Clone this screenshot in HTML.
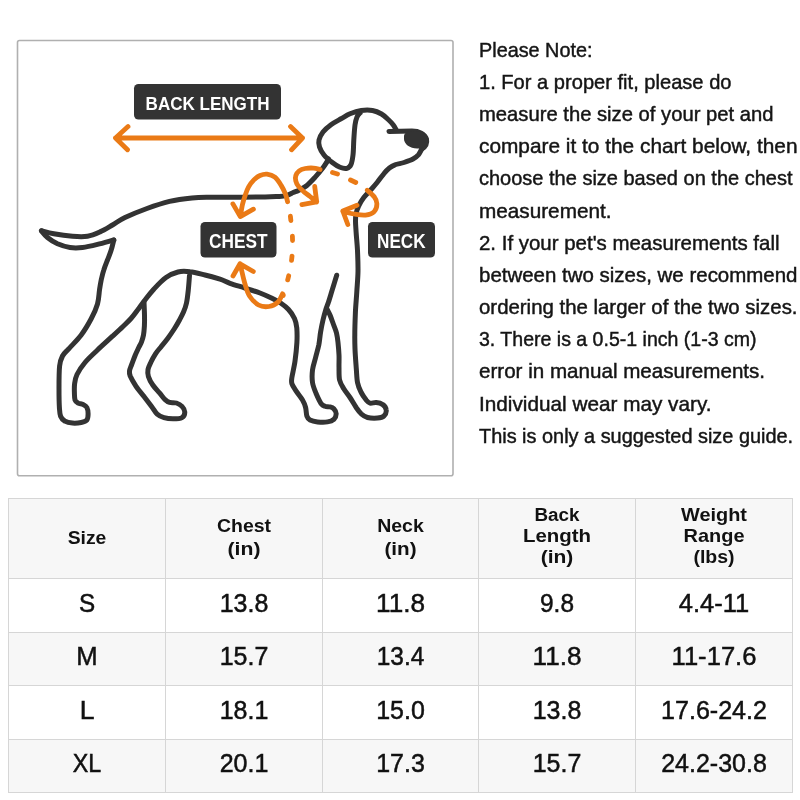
<!DOCTYPE html>
<html>
<head>
<meta charset="utf-8">
<style>
html,body{margin:0;padding:0;background:#fff;}
body{width:800px;height:800px;overflow:hidden;}
svg{display:block;will-change:transform;}
text{font-family:"Liberation Sans","Noto Sans CJK SC",sans-serif;}
.n{font-size:20.3px;fill:#151515;stroke:#151515;stroke-width:0.45px;}
.h{font-size:19px;font-weight:bold;fill:#111;text-anchor:middle;}
.d{font-size:26px;fill:#111;stroke:#111;stroke-width:0.5px;text-anchor:middle;}
.lbl{font-weight:bold;fill:#fff;text-anchor:middle;}
</style>
</head>
<body>
<svg width="800" height="800" viewBox="0 0 800 800">
<rect x="17.5" y="40.5" width="435.5" height="435.3" rx="2" fill="#fff" stroke="#b0b0b0" stroke-width="1.6"/>
<g fill="none" stroke="#333" stroke-width="5" stroke-linecap="round" stroke-linejoin="round">
<path d="M41.4,230.8 C43.5,231.3 48.6,232.8 53.8,233.8 C58.9,234.7 66.9,235.8 72.5,236.2 C78.1,236.7 82.9,237.0 87.5,236.2 C92.1,235.5 95.8,233.8 100.0,231.9 C104.2,230.0 108.3,227.4 112.5,225.0 C116.7,222.6 119.2,220.2 125.0,217.5 C130.8,214.8 139.6,211.2 147.0,208.5 C154.4,205.8 162.0,203.2 169.5,201.4 C177.0,199.7 185.2,198.7 192.0,198.0 C198.8,197.3 202.0,197.4 210.0,197.3 C218.0,197.2 230.8,197.2 240.0,197.2 C249.2,197.1 258.8,197.1 265.0,197.0 C271.2,196.9 274.0,196.7 277.5,196.5 C281.0,196.3 283.6,196.3 286.2,195.6 C288.9,194.9 291.2,193.4 293.2,192.5 C295.3,191.6 296.3,191.5 298.5,190.4 C300.7,189.3 303.8,187.9 306.6,185.7 C309.4,183.4 312.7,179.8 315.4,176.9 C318.1,174.0 320.9,170.6 322.8,168.1 C324.7,165.6 325.9,163.5 326.9,162.0 C327.8,160.5 328.2,159.5 328.5,159.0"/>
<path d="M41.4,230.8 C42.4,231.9 44.8,235.3 47.5,237.5 C50.2,239.7 53.8,242.1 57.5,243.8 C61.2,245.4 65.8,246.9 70.0,247.5 C74.2,248.1 77.9,248.0 82.5,247.5 C87.1,247.0 92.3,245.7 97.5,244.4 C102.7,243.2 111.0,240.7 113.8,240.0"/>
<path d="M113.8,240.0 C113.3,241.7 112.3,246.7 111.2,250.0 C110.2,253.3 108.8,256.7 107.5,260.0 C106.2,263.3 104.8,266.7 103.8,270.0 C102.7,273.3 102.0,276.7 101.2,280.0 C100.5,283.3 100.1,286.0 99.5,290.0 C98.9,294.0 98.9,299.2 97.5,304.0 C96.1,308.8 94.0,313.6 91.2,318.8 C88.5,323.9 85.0,330.0 81.2,335.0 C77.5,340.0 71.9,345.2 68.8,348.8 C65.6,352.2 64.0,353.1 62.5,356.0 C61.0,358.9 60.2,360.5 59.6,366.0 C59.0,371.5 59.0,381.8 59.0,388.8 C59.0,395.7 59.1,402.9 59.4,407.5 C59.7,412.1 59.7,414.0 60.6,416.2 C61.5,418.5 63.0,420.1 65.0,421.2 C67.0,422.4 69.8,422.9 72.5,423.1 C75.2,423.3 78.8,423.0 81.2,422.5 C83.7,422.0 85.8,421.5 86.9,420.0 C88.0,418.5 88.1,415.8 88.1,413.8 C88.1,411.7 87.7,409.1 86.9,407.5 C86.1,405.9 84.6,405.1 83.1,404.4 C81.6,403.7 79.4,403.8 78.1,403.1 C76.8,402.4 75.6,401.8 75.0,400.0 C74.4,398.2 74.5,395.2 74.4,392.5 C74.3,389.8 74.2,386.8 74.6,383.8 C75.0,380.8 75.3,378.0 77.0,374.5 C78.7,371.0 81.6,366.6 85.0,362.5 C88.4,358.4 92.9,354.4 97.5,350.0 C102.1,345.6 108.2,340.2 112.5,336.2 C116.8,332.3 119.9,329.5 123.0,326.5 C126.1,323.5 128.5,321.3 131.0,318.5 C133.5,315.7 135.7,312.6 138.0,309.5 C140.3,306.4 142.3,303.4 145.0,300.0 C147.7,296.6 150.5,292.8 154.0,289.0 C157.5,285.2 162.0,280.3 166.0,277.5 C170.0,274.7 174.0,273.0 178.0,272.0 C182.0,271.0 185.5,271.2 190.0,271.8 C194.5,272.2 200.0,273.8 205.0,275.0 C210.0,276.2 215.8,277.9 220.0,279.2 C224.2,280.6 225.8,281.8 230.0,283.3 C234.2,284.8 240.0,286.4 245.0,288.0 C250.0,289.6 255.5,291.3 260.0,293.0 C264.5,294.7 268.5,296.6 272.0,298.3 C275.5,300.0 278.2,301.4 281.0,303.3 C283.8,305.2 286.2,307.0 288.5,309.5 C290.8,312.0 293.1,315.4 294.5,318.5 C295.9,321.6 296.4,324.0 296.8,328.0 C297.1,332.0 297.2,337.0 296.9,342.5 C296.6,348.0 295.8,355.4 295.0,361.2 C294.2,367.1 292.4,373.8 291.9,377.5 C291.4,381.2 291.2,381.5 291.9,383.8 C292.6,386.0 294.5,388.5 296.2,391.2 C298.0,394.0 300.9,397.3 302.5,400.0 C304.1,402.7 304.9,404.8 305.6,407.5 C306.3,410.2 306.2,414.2 306.9,416.2 C307.6,418.3 308.2,419.1 310.0,420.0 C311.8,420.9 314.6,421.6 317.5,421.9 C320.4,422.2 324.8,422.3 327.5,421.9 C330.2,421.5 332.3,420.8 333.8,419.4 C335.2,418.0 336.2,415.5 336.2,413.8 C336.2,412.0 334.8,409.9 333.8,408.8 C332.7,407.6 331.5,407.3 330.0,406.9 C328.5,406.5 326.5,406.8 325.0,406.2 C323.5,405.7 322.7,405.8 321.2,403.8 C319.8,401.7 317.7,397.3 316.2,393.8 C314.8,390.2 313.1,386.5 312.5,382.5 C311.9,378.5 312.0,374.2 312.5,370.0 C313.0,365.8 314.6,361.7 315.6,357.5 C316.6,353.3 317.9,349.2 318.8,345.0 C319.6,340.8 319.9,336.2 320.6,332.0 C321.3,327.8 322.1,323.8 323.0,320.0 C323.9,316.2 325.1,312.0 326.0,309.0 C326.9,306.0 327.4,305.3 328.5,302.0 C329.6,298.7 331.1,293.5 332.5,289.0 C333.9,284.5 336.0,277.5 336.7,275.2"/>
<path d="M144.0,302.0 C144.1,304.2 144.4,311.0 144.5,315.0 C144.6,319.0 144.6,322.7 144.4,326.0 C144.2,329.3 144.0,332.3 143.5,335.0 C143.0,337.7 142.2,340.0 141.5,342.0 C140.8,344.0 140.0,344.8 139.0,347.0 C138.0,349.2 136.5,352.2 135.2,355.2 C134.0,358.2 132.5,362.4 131.5,365.0 C130.5,367.6 129.7,369.2 129.5,371.0 C129.3,372.8 129.2,373.5 130.2,376.0 C131.3,378.5 133.7,382.7 135.9,386.1 C138.2,389.5 141.1,392.9 143.8,396.2 C146.4,399.6 149.3,403.4 151.6,406.4 C153.8,409.4 155.2,412.4 157.2,414.2 C159.3,416.1 161.4,416.9 164.0,417.6 C166.6,418.4 170.0,418.8 173.0,418.8 C176.0,418.8 180.0,418.7 182.0,417.6 C184.0,416.5 184.8,413.9 184.8,412.0 C184.8,410.1 183.4,407.9 182.0,406.4 C180.6,404.9 178.5,403.7 176.4,403.0 C174.3,402.3 171.5,403.0 169.6,402.4 C167.7,401.8 166.8,401.2 165.1,399.6 C163.4,398.0 161.6,395.3 159.5,392.9 C157.4,390.5 154.6,387.7 152.8,385.0 C150.9,382.3 149.2,379.1 148.4,376.5 C147.6,373.9 147.6,371.9 148.0,369.5 C148.4,367.1 149.8,364.6 151.0,362.0 C152.2,359.4 153.8,356.4 155.5,353.8 C157.2,351.1 159.5,348.8 161.5,346.2 C163.5,343.8 165.4,341.6 167.5,338.8 C169.6,335.9 172.2,332.1 174.2,329.0 C176.2,325.9 178.0,322.8 179.5,320.0 C181.0,317.2 182.3,314.8 183.5,312.0 C184.7,309.2 185.7,306.7 186.5,303.0 C187.3,299.3 187.8,294.6 188.3,290.0 C188.8,285.4 189.3,277.9 189.5,275.5"/>
<path d="M327.0,309.0 C327.5,310.0 328.9,312.4 330.0,315.0 C331.1,317.6 332.4,321.5 333.5,324.5 C334.6,327.5 335.8,330.0 336.5,333.0 C337.2,336.0 337.6,338.8 338.0,342.5 C338.4,346.2 338.8,350.8 339.0,355.0 C339.2,359.2 338.9,363.3 339.0,367.5 C339.1,371.7 338.8,376.5 339.6,380.0 C340.4,383.5 342.0,385.8 343.8,388.8 C345.5,391.7 347.9,394.4 350.0,397.5 C352.1,400.6 354.4,404.8 356.2,407.5 C358.1,410.2 359.4,412.1 361.2,413.8 C363.1,415.4 364.8,416.8 367.5,417.5 C370.2,418.2 374.8,418.3 377.5,418.1 C380.2,417.9 382.3,417.6 383.8,416.2 C385.2,414.9 386.5,412.0 386.2,410.0 C386.0,408.0 384.2,405.6 382.5,404.4 C380.8,403.1 378.3,402.7 376.2,402.5 C374.2,402.3 371.7,403.5 370.0,403.1 C368.3,402.7 367.7,401.8 366.2,400.0 C364.8,398.2 362.7,395.4 361.2,392.5 C359.8,389.6 358.3,386.7 357.5,382.5 C356.7,378.3 356.7,373.1 356.2,367.5 C355.8,361.9 355.2,354.2 355.0,348.8 C354.8,343.3 354.7,341.0 354.8,335.0 C354.8,329.0 355.1,319.7 355.4,312.5 C355.7,305.3 356.4,298.8 356.8,291.9 C357.2,285.0 357.9,278.1 358.0,271.2 C358.1,264.4 357.8,257.1 357.5,250.6 C357.2,244.1 356.4,236.9 356.1,232.0 C355.8,227.1 355.5,224.2 355.5,221.2 C355.5,218.2 355.5,216.5 356.0,214.0 C356.5,211.5 357.2,209.1 358.5,206.4 C359.8,203.7 361.5,200.6 363.8,197.6 C366.0,194.6 369.7,191.1 372.0,188.5 C374.3,185.9 375.5,184.5 377.5,182.0 C379.5,179.5 381.8,176.1 383.8,173.8 C385.7,171.4 387.5,169.5 389.4,168.0 C391.3,166.5 392.6,165.7 395.0,164.8 C397.4,163.8 401.0,163.5 404.0,162.5 C407.0,161.5 410.6,160.3 413.0,159.0 C415.4,157.7 417.1,156.3 418.6,154.6 C420.1,152.8 421.4,149.5 422.0,148.5"/>
<path d="M396.0,129.5 C395.6,128.8 394.6,126.7 393.3,125.0 C392.0,123.3 390.2,121.3 388.2,119.5 C386.3,117.7 384.1,115.5 381.5,114.0 C378.9,112.5 375.9,111.1 372.5,110.5 C369.1,109.9 365.0,110.0 361.2,110.5 C357.5,111.0 353.4,112.4 350.0,113.8 C346.6,115.2 344.2,117.0 341.0,118.8 C337.8,120.6 334.0,122.5 331.0,124.7 C328.0,126.9 325.0,129.4 323.0,132.0 C321.0,134.6 319.6,137.5 319.0,140.0 C318.4,142.5 318.7,144.5 319.5,147.0 C320.3,149.5 321.9,152.4 324.0,155.0 C326.1,157.6 329.3,160.2 332.0,162.3 C334.7,164.4 337.5,166.3 340.0,167.3 C342.5,168.3 345.2,168.8 347.0,168.3 C348.8,167.8 350.0,166.7 351.0,164.5 C352.0,162.3 352.5,159.1 353.0,155.0 C353.5,150.9 353.5,145.0 353.8,140.0 C354.1,135.0 354.5,128.8 355.0,125.0 C355.5,121.2 356.1,119.1 357.0,117.0 C357.9,114.9 359.9,113.2 360.5,112.5"/>
<path d="M389,131.5 L412,131 C419,131 425,134 426.5,139 C427.5,144 425,147 422,149"/>
</g>
<path d="M404,136 C404,132 410,131 416,131 C423,131 428,135 428,140 C428,146 423,148.5 417,148.5 C410,148.5 404,144 404,139 Z" fill="#333"/>
<g fill="none" stroke="#ea7a16" stroke-width="4.8" stroke-linecap="round" stroke-linejoin="round">
<path d="M115.5,138 L302.5,138 M128,126.6 L115.5,138 L127.5,149.8 M290.5,126.6 L302.5,138 L291.5,149.8"/>
<path d="M287.6,201.8 C287.2,200.4 286.5,196.7 285.4,193.9 C284.3,191.1 282.8,187.9 281.0,185.1 C279.2,182.3 277.2,179.1 274.9,177.2 C272.6,175.4 269.5,174.5 267.0,174.2 C264.5,173.9 262.2,174.6 260.0,175.5 C257.8,176.4 255.8,178.0 253.9,179.9 C252.0,181.8 250.1,184.3 248.6,186.9 C247.1,189.5 246.1,192.7 245.1,195.6 C244.1,198.5 243.3,200.9 242.5,204.4 C241.7,207.9 240.7,214.6 240.3,216.6 M232.9,203.9 L240.3,216.6 L253.4,209.2"/>
<path d="M290.4,216.2 C290.7,219.6 292.1,229.7 292.4,236.4 C292.7,243.1 292.6,249.7 292.0,256.3 C291.4,262.9 290.1,269.7 288.6,276.2 C287.1,282.7 284.1,292.3 283.2,295.5" stroke-dasharray="4.4 15.6"/>
<path d="M282.5,293.8 C281.8,295.1 280.2,299.9 278.0,302.0 C275.8,304.1 272.2,306.0 269.0,306.5 C265.8,307.0 261.8,306.8 258.5,305.0 C255.2,303.2 251.8,299.5 249.5,296.0 C247.2,292.5 246.2,288.0 245.0,284.0 C243.8,280.0 242.8,275.4 242.0,272.0 C241.2,268.6 240.3,265.2 240.0,263.8 M233,276 L240,263.8 L253.3,271.5"/>
<path d="M320.1,169.5 C319.0,169.3 315.9,168.3 313.4,168.1 C310.9,167.9 307.6,168.1 305.2,168.5 C302.9,168.9 300.8,169.6 299.2,170.8 C297.6,172.0 296.4,173.9 295.8,175.6 C295.2,177.2 295.4,179.2 295.8,181.0 C296.2,182.8 297.1,184.6 298.5,186.4 C299.9,188.2 302.0,190.1 303.9,191.8 C305.8,193.4 307.9,194.8 310.0,196.5 C312.1,198.2 315.6,201.0 316.7,201.9 M314.7,186.4 L316.7,201.9 L301.9,204.6"/>
<path d="M332.5,172.5 L337.5,174 M350.5,180 L355.75,182.5"/>
<path d="M367.2,190.2 C368.4,191.3 372.6,194.5 374.2,196.8 C375.9,199.0 376.9,201.3 376.9,203.8 C376.9,206.2 376.1,209.7 374.2,211.6 C372.4,213.5 368.7,214.7 365.5,215.1 C362.3,215.5 358.2,214.7 355.0,214.2 C351.8,213.8 348.5,213.0 346.5,212.5 C344.5,212.0 343.4,211.2 342.8,211.0 M357,205.2 L342.8,211 L347.8,224.5"/>
</g>
<rect x="134" y="84" width="147" height="35.5" rx="4.5" fill="#333"/>
<text class="lbl" x="207.6" y="110" font-size="19" textLength="124" lengthAdjust="spacingAndGlyphs">BACK LENGTH</text>
<rect x="200.5" y="222" width="76" height="35.5" rx="4.5" fill="#333"/>
<text class="lbl" x="238.3" y="248.3" font-size="19.5" textLength="58.5" lengthAdjust="spacingAndGlyphs">CHEST</text>
<rect x="368" y="222" width="67" height="35.5" rx="4.5" fill="#333"/>
<text class="lbl" x="401.3" y="248.2" font-size="19.5" textLength="48.5" lengthAdjust="spacingAndGlyphs">NECK</text>
<g class="n">
<text x="479.00" y="56.60" textLength="113.50" lengthAdjust="spacingAndGlyphs">Please Note:</text>
<text x="479.00" y="88.78" textLength="252.50" lengthAdjust="spacingAndGlyphs">1. For a proper fit, please do</text>
<text x="479.00" y="120.96" textLength="294.50" lengthAdjust="spacingAndGlyphs">measure the size of your pet and</text>
<text x="479.00" y="153.14" textLength="318.50" lengthAdjust="spacingAndGlyphs">compare it to the chart below, then</text>
<text x="479.00" y="185.32" textLength="313.50" lengthAdjust="spacingAndGlyphs">choose the size based on the chest</text>
<text x="479.00" y="217.50" textLength="132.50" lengthAdjust="spacingAndGlyphs">measurement.</text>
<text x="479.00" y="249.68" textLength="300.50" lengthAdjust="spacingAndGlyphs">2. If your pet&#39;s measurements fall</text>
<text x="479.00" y="281.86" textLength="318.50" lengthAdjust="spacingAndGlyphs">between two sizes, we recommend</text>
<text x="479.00" y="314.04" textLength="318.50" lengthAdjust="spacingAndGlyphs">ordering the larger of the two sizes.</text>
<text x="479.00" y="346.22" textLength="277.50" lengthAdjust="spacingAndGlyphs">3. There is a 0.5-1 inch (1-3 cm)</text>
<text x="479.00" y="378.40" textLength="286.10" lengthAdjust="spacingAndGlyphs">error in manual measurements.</text>
<text x="479.00" y="410.58" textLength="232.50" lengthAdjust="spacingAndGlyphs">Individual wear may vary.</text>
<text x="479.00" y="442.76" textLength="314.10" lengthAdjust="spacingAndGlyphs">This is only a suggested size guide.</text>
</g>
<g>
<rect x="8" y="498" width="784" height="80" fill="#f7f7f7"/>
<rect x="8" y="578" width="784" height="54" fill="#ffffff"/>
<rect x="8" y="632" width="784" height="53" fill="#f7f7f7"/>
<rect x="8" y="685" width="784" height="54" fill="#ffffff"/>
<rect x="8" y="739" width="784" height="53" fill="#f7f7f7"/>
<rect x="8" y="498" width="785" height="1" fill="#d6d6d6"/>
<rect x="8" y="578" width="785" height="1" fill="#d6d6d6"/>
<rect x="8" y="632" width="785" height="1" fill="#d6d6d6"/>
<rect x="8" y="685" width="785" height="1" fill="#d6d6d6"/>
<rect x="8" y="739" width="785" height="1" fill="#d6d6d6"/>
<rect x="8" y="792" width="785" height="1" fill="#d6d6d6"/>
<rect x="8" y="498" width="1" height="295" fill="#d6d6d6"/>
<rect x="165" y="498" width="1" height="295" fill="#d6d6d6"/>
<rect x="322" y="498" width="1" height="295" fill="#d6d6d6"/>
<rect x="478" y="498" width="1" height="295" fill="#d6d6d6"/>
<rect x="635" y="498" width="1" height="295" fill="#d6d6d6"/>
<rect x="792" y="498" width="1" height="295" fill="#d6d6d6"/>
<text class="h" transform="translate(87.00,543.6) scale(1.0170,1)" x="0" y="0">Size</text>
<text class="h" transform="translate(244.00,532) scale(1.0247,1)" x="0" y="0">Chest</text>
<text class="h" transform="translate(244.00,554.5) scale(1.1175,1)" x="0" y="0">(in)</text>
<text class="h" transform="translate(400.50,532) scale(1.0273,1)" x="0" y="0">Neck</text>
<text class="h" transform="translate(400.50,554.5) scale(1.0865,1)" x="0" y="0">(in)</text>
<text class="h" transform="translate(557.00,521) scale(0.9925,1)" x="0" y="0">Back</text>
<text class="h" transform="translate(557.00,542) scale(1.0763,1)" x="0" y="0">Length</text>
<text class="h" transform="translate(557.00,563) scale(1.1063,1)" x="0" y="0">(in)</text>
<text class="h" transform="translate(714.00,521) scale(1.0485,1)" x="0" y="0">Weight</text>
<text class="h" transform="translate(714.00,542) scale(1.0501,1)" x="0" y="0">Range</text>
<text class="h" transform="translate(714.00,563) scale(1.0265,1)" x="0" y="0">(lbs)</text>
<text class="d" transform="translate(87.00,612) scale(0.9330510355029585,1)" x="0" y="0">S</text>
<text class="d" transform="translate(244.00,612) scale(0.961871936758893,1)" x="0" y="0">13.8</text>
<text class="d" transform="translate(400.50,612) scale(1.0061130749354004,1)" x="0" y="0">11.8</text>
<text class="d" transform="translate(557.00,612) scale(0.9408431085043988,1)" x="0" y="0">9.8</text>
<text class="d" transform="translate(714.00,612) scale(0.981657624918884,1)" x="0" y="0">4.4-11</text>
<text class="d" transform="translate(87.00,665) scale(0.9871931660899652,1)" x="0" y="0">M</text>
<text class="d" transform="translate(244.00,665) scale(0.961871936758893,1)" x="0" y="0">15.7</text>
<text class="d" transform="translate(400.50,665) scale(0.9404970048309177,1)" x="0" y="0">13.4</text>
<text class="d" transform="translate(557.00,665) scale(1.0055933884297519,1)" x="0" y="0">11.8</text>
<text class="d" transform="translate(714.00,665) scale(0.9845736585365852,1)" x="0" y="0">11-17.6</text>
<text class="d" transform="translate(87.00,718.75) scale(1.0214099999999997,1)" x="0" y="0">L</text>
<text class="d" transform="translate(244.00,718.75) scale(0.961871936758893,1)" x="0" y="0">18.1</text>
<text class="d" transform="translate(400.50,718.75) scale(0.9613969382716049,1)" x="0" y="0">15.0</text>
<text class="d" transform="translate(557.00,718.75) scale(0.961871936758893,1)" x="0" y="0">13.8</text>
<text class="d" transform="translate(714.00,718.75) scale(0.9643532076908434,1)" x="0" y="0">17.6-24.2</text>
<text class="d" transform="translate(87.00,772) scale(0.8974975172413793,1)" x="0" y="0">XL</text>
<text class="d" transform="translate(244.00,772) scale(0.9632997525977237,1)" x="0" y="0">20.1</text>
<text class="d" transform="translate(400.50,772) scale(0.9613969382716049,1)" x="0" y="0">17.3</text>
<text class="d" transform="translate(557.00,772) scale(0.961871936758893,1)" x="0" y="0">15.7</text>
<text class="d" transform="translate(714.00,772) scale(0.9624806485059855,1)" x="0" y="0">24.2-30.8</text>
</g>
</svg>
</body>
</html>
